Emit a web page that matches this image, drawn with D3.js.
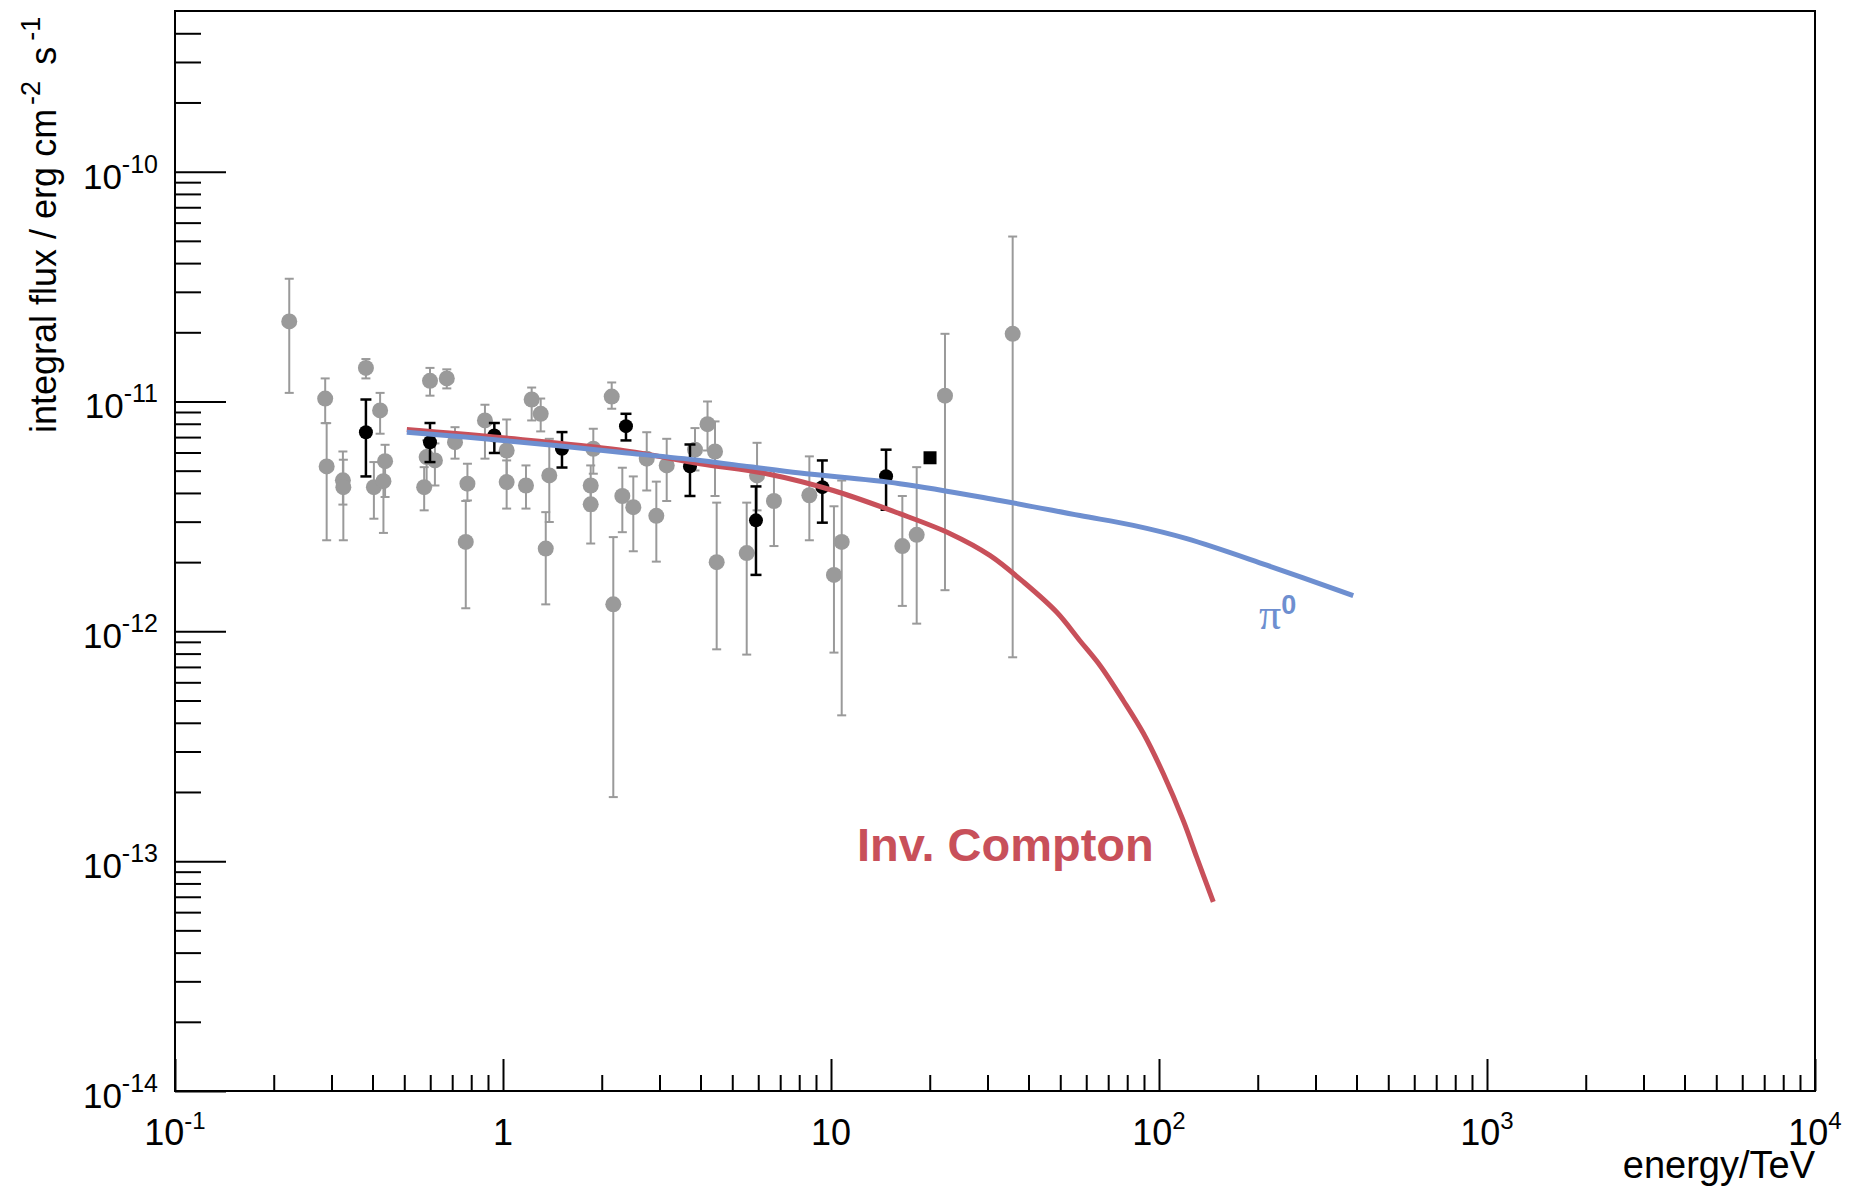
<!DOCTYPE html>
<html>
<head>
<meta charset="utf-8">
<script src="https://cdn.jsdelivr.net/npm/d3@7"></script>
<style>
  body { margin: 0; background: #fff; }
  text { font-family: "Liberation Sans", Arial, Helvetica, sans-serif; }
</style>
</head>
<body>
<svg id="chart" width="1862" height="1186"></svg>
<script>
// ---- data: [energy TeV, flux, flux low, flux high] ----
const greyPoints = [
  [0.223, 2.23e-11, 1.09e-11, 3.42e-11],
  [0.287, 1.03e-11, 8.05e-12, 1.26e-11],
  [0.290, 5.22e-12, 2.49e-12, 8.05e-12],
  [0.325, 4.54e-12, 3.56e-12, 6.06e-12],
  [0.326, 4.24e-12, 2.49e-12, 5.58e-12],
  [0.382, 1.40e-11, 1.26e-11, 1.53e-11],
  [0.422, 9.14e-12, 7.24e-12, 1.09e-11],
  [0.404, 4.24e-12, 3.09e-12, 5.45e-12],
  [0.437, 5.50e-12, 3.84e-12, 6.48e-12],
  [0.432, 4.50e-12, 2.68e-12, 5.36e-12],
  [0.599, 1.23e-11, 1.06e-11, 1.40e-11],
  [0.674, 1.26e-11, 1.14e-11, 1.38e-11],
  [0.585, 5.73e-12, 4.31e-12, 6.77e-12],
  [0.620, 5.54e-12, 4.31e-12, 6.57e-12],
  [0.575, 4.24e-12, 3.36e-12, 5.18e-12],
  [0.714, 6.65e-12, 5.64e-12, 7.73e-12],
  [0.779, 4.39e-12, 3.71e-12, 5.36e-12],
  [0.770, 2.45e-12, 1.26e-12, 3.69e-12],
  [0.881, 8.27e-12, 5.64e-12, 9.68e-12],
  [1.026, 6.12e-12, 4.31e-12, 8.35e-12],
  [1.026, 4.46e-12, 3.42e-12, 5.54e-12],
  [1.175, 4.31e-12, 3.42e-12, 5.27e-12],
  [1.223, 1.02e-11, 8.27e-12, 1.15e-11],
  [1.303, 8.84e-12, 7.41e-12, 1.03e-11],
  [1.384, 4.77e-12, 2.99e-12, 6.88e-12],
  [1.350, 2.29e-12, 1.31e-12, 3.30e-12],
  [1.851, 4.31e-12, 3.36e-12, 5.27e-12],
  [1.851, 3.57e-12, 2.41e-12, 4.53e-12],
  [1.885, 6.23e-12, 4.85e-12, 7.61e-12],
  [2.145, 1.05e-11, 9.30e-12, 1.21e-11],
  [2.169, 1.31e-12, 1.90e-13, 2.57e-12],
  [2.311, 3.88e-12, 2.70e-12, 5.15e-12],
  [2.496, 3.47e-12, 2.23e-12, 4.72e-12],
  [2.743, 5.64e-12, 4.10e-12, 7.35e-12],
  [2.934, 3.18e-12, 2.01e-12, 4.48e-12],
  [3.156, 5.27e-12, 3.69e-12, 6.88e-12],
  [3.849, 6.17e-12, 5.01e-12, 7.66e-12],
  [4.203, 7.97e-12, 6.12e-12, 1.00e-11],
  [4.430, 6.06e-12, 3.88e-12, 8.19e-12],
  [4.482, 2.00e-12, 8.35e-13, 3.63e-12],
  [5.534, 2.19e-12, 7.92e-13, 3.63e-12],
  [5.950, 4.77e-12, 3.36e-12, 6.61e-12],
  [6.700, 3.69e-12, 2.35e-12, 5.01e-12],
  [8.590, 3.91e-12, 2.49e-12, 5.77e-12],
  [10.21, 1.76e-12, 8.08e-13, 3.50e-12],
  [10.78, 2.45e-12, 4.31e-13, 4.53e-12],
  [16.50, 2.35e-12, 1.29e-12, 3.88e-12],
  [18.25, 2.63e-12, 1.08e-12, 5.18e-12],
  [22.26, 1.06e-11, 1.51e-12, 1.97e-11],
  [35.80, 1.97e-11, 7.71e-13, 5.22e-11]
];

const blackPoints = [
  [0.382, 7.35e-12, 4.72e-12, 1.02e-11],
  [0.599, 6.65e-12, 5.45e-12, 8.06e-12],
  [0.941, 7.11e-12, 5.97e-12, 8.06e-12],
  [1.513, 6.23e-12, 5.16e-12, 7.36e-12],
  [2.371, 7.81e-12, 6.77e-12, 8.84e-12],
  [3.716, 5.22e-12, 3.88e-12, 6.50e-12],
  [5.906, 3.04e-12, 1.76e-12, 4.27e-12],
  [9.41, 4.24e-12, 2.97e-12, 5.54e-12],
  [14.72, 4.73e-12, 3.38e-12, 6.17e-12]
];

const squarePoints = [[20.04, 5.69e-12]];

// model curves: [energy TeV, flux]
const pionCurve = [
  [0.509, 7.35e-12], [1.0, 6.77e-12], [2.27, 6.02e-12], [3.99, 5.54e-12],
  [5.66, 5.20e-12], [8.05, 4.88e-12], [16.2, 4.39e-12], [32.7, 3.71e-12],
  [57.4, 3.19e-12], [83.5, 2.89e-12], [121.5, 2.53e-12], [213, 1.94e-12],
  [391, 1.43e-12]
];

const icCurve = [
  [0.509, 7.55e-12], [1.0, 6.95e-12], [2.27, 6.15e-12], [3.99, 5.36e-12],
  [6.37, 4.85e-12], [10.16, 4.10e-12], [16.2, 3.25e-12], [23.1, 2.66e-12],
  [30.5, 2.14e-12], [38.6, 1.64e-12], [48.8, 1.21e-12], [57.4, 9.1e-13],
  [66.1, 7.1e-13], [77.8, 5.0e-13], [89.6, 3.6e-13], [103.1, 2.4e-13],
  [118.6, 1.5e-13], [130.3, 1.04e-13], [146.4, 6.65e-14]
];

// tick labels
const xMajor = [0.1, 1, 10, 100, 1000, 10000];
const xTickBase = ["10", "1", "10", "10", "10", "10"];
const xTickExp = ["-1", "", "", "2", "3", "4"];
const yMajor = [1e-14, 1e-13, 1e-12, 1e-11, 1e-10];
const yTickExp = ["-14", "-13", "-12", "-11", "-10"];

// ---- layout ----
const padL = 175, padR = 1815, padT = 11, padB = 1091;

const svg = d3.select("#chart");

const x = d3.scaleLog().domain([0.1, 1e4]).range([padL, padR]);
const y = d3.scaleLog().domain([1e-14, 5e-10]).range([padB, padT]);

const xMinor = x.ticks().filter(v => !xMajor.some(m => Math.abs(m - v) / m < 1e-6));
const yMinor = y.ticks().filter(v => !yMajor.some(m => Math.abs(m - v) / m < 1e-6) && v < 4.9e-10);

function tickAxis(axis, tr) {
  const g = svg.append("g").attr("transform", tr).call(axis);
  g.select(".domain").remove();
  g.selectAll("line").attr("stroke", "#000").attr("stroke-width", 2);
  return g;
}

tickAxis(d3.axisBottom(x).tickValues(xMinor).tickSize(-16).tickFormat(""), `translate(0,${padB})`);
tickAxis(d3.axisBottom(x).tickValues(xMajor).tickSize(-32).tickFormat(""), `translate(0,${padB})`);
tickAxis(d3.axisLeft(y).tickValues(yMinor).tickSize(-26).tickFormat(""), `translate(${padL},0)`);
tickAxis(d3.axisLeft(y).tickValues(yMajor).tickSize(-51).tickFormat(""), `translate(${padL},0)`);

// frame
svg.append("rect")
  .attr("x", padL).attr("y", padT)
  .attr("width", padR - padL).attr("height", padB - padT)
  .attr("fill", "none").attr("stroke", "#000").attr("stroke-width", 2);

// x tick labels
xMajor.forEach((v, i) => {
  const t = svg.append("text")
    .attr("x", x(v)).attr("y", 1145)
    .attr("text-anchor", "middle")
    .attr("font-size", 36)
    .text(xTickBase[i]);
  if (xTickExp[i]) t.append("tspan").attr("font-size", 24).attr("dy", -16).text(xTickExp[i]);
});

// y tick labels
yMajor.forEach((v, i) => {
  svg.append("text")
    .attr("x", 158).attr("y", y(v) + 17)
    .attr("text-anchor", "end")
    .attr("font-size", 35)
    .text("10")
    .append("tspan").attr("font-size", 25).attr("dy", -16).text(yTickExp[i]);
});

// axis titles
svg.append("text")
  .attr("x", padR).attr("y", 1178)
  .attr("text-anchor", "end")
  .attr("font-size", 38)
  .text("energy/TeV");

const yt = svg.append("text")
  .attr("transform", "translate(56,433) rotate(-90)")
  .attr("font-size", 36);
yt.append("tspan").text("integral flux / erg cm");
yt.append("tspan").attr("font-size", 27).attr("dx", 4).attr("dy", -16).text("-2");
yt.append("tspan").attr("dy", 16).attr("dx", 6).text(" s");
yt.append("tspan").attr("font-size", 27).attr("dx", 6).attr("dy", -16).text("-1");

// ---- data points ----
function errorBars(data, color, width, cap) {
  const g = svg.append("g").attr("stroke", color).attr("stroke-width", width);
  g.selectAll(".bar").data(data).enter().append("line")
    .attr("x1", d => x(d[0])).attr("x2", d => x(d[0]))
    .attr("y1", d => y(d[2])).attr("y2", d => y(d[3]));
  g.selectAll(".capLo").data(data).enter().append("line")
    .attr("x1", d => x(d[0]) - cap).attr("x2", d => x(d[0]) + cap)
    .attr("y1", d => y(d[2])).attr("y2", d => y(d[2]));
  g.selectAll(".capHi").data(data).enter().append("line")
    .attr("x1", d => x(d[0]) - cap).attr("x2", d => x(d[0]) + cap)
    .attr("y1", d => y(d[3])).attr("y2", d => y(d[3]));
}

errorBars(greyPoints, "#9a9a9a", 2, 4.5);
svg.append("g").selectAll("circle").data(greyPoints).enter().append("circle")
  .attr("cx", d => x(d[0])).attr("cy", d => y(d[1]))
  .attr("r", 8).attr("fill", "#9a9a9a");

errorBars(blackPoints, "#000", 2.5, 5.5);
svg.append("g").selectAll("circle").data(blackPoints).enter().append("circle")
  .attr("cx", d => x(d[0])).attr("cy", d => y(d[1]))
  .attr("r", 7).attr("fill", "#000");

svg.append("g").selectAll("rect").data(squarePoints).enter().append("rect")
  .attr("x", d => x(d[0]) - 6.5).attr("y", d => y(d[1]) - 6.5)
  .attr("width", 13).attr("height", 13).attr("fill", "#000");

// ---- model curves ----
const line = d3.line().x(d => x(d[0])).y(d => y(d[1])).curve(d3.curveCatmullRom.alpha(0.5));

svg.append("path").datum(icCurve).attr("d", line)
  .attr("fill", "none").attr("stroke", "#c8505a").attr("stroke-width", 5);
svg.append("path").datum(pionCurve).attr("d", line)
  .attr("fill", "none").attr("stroke", "#6e8fd0").attr("stroke-width", 5);

// labels
svg.append("text")
  .attr("x", 857).attr("y", 861)
  .attr("font-size", 47).attr("font-weight", "bold")
  .attr("fill", "#c8505a")
  .text("Inv. Compton");

const pi = svg.append("text")
  .attr("x", 1259).attr("y", 629)
  .attr("fill", "#6e8fd0");
pi.append("tspan").attr("font-family", "'Liberation Serif', 'DejaVu Serif', serif").attr("font-size", 44).text("π");
pi.append("tspan").attr("font-size", 27).attr("font-weight", "bold").attr("dy", -15).text("0");
</script>
</body>
</html>
